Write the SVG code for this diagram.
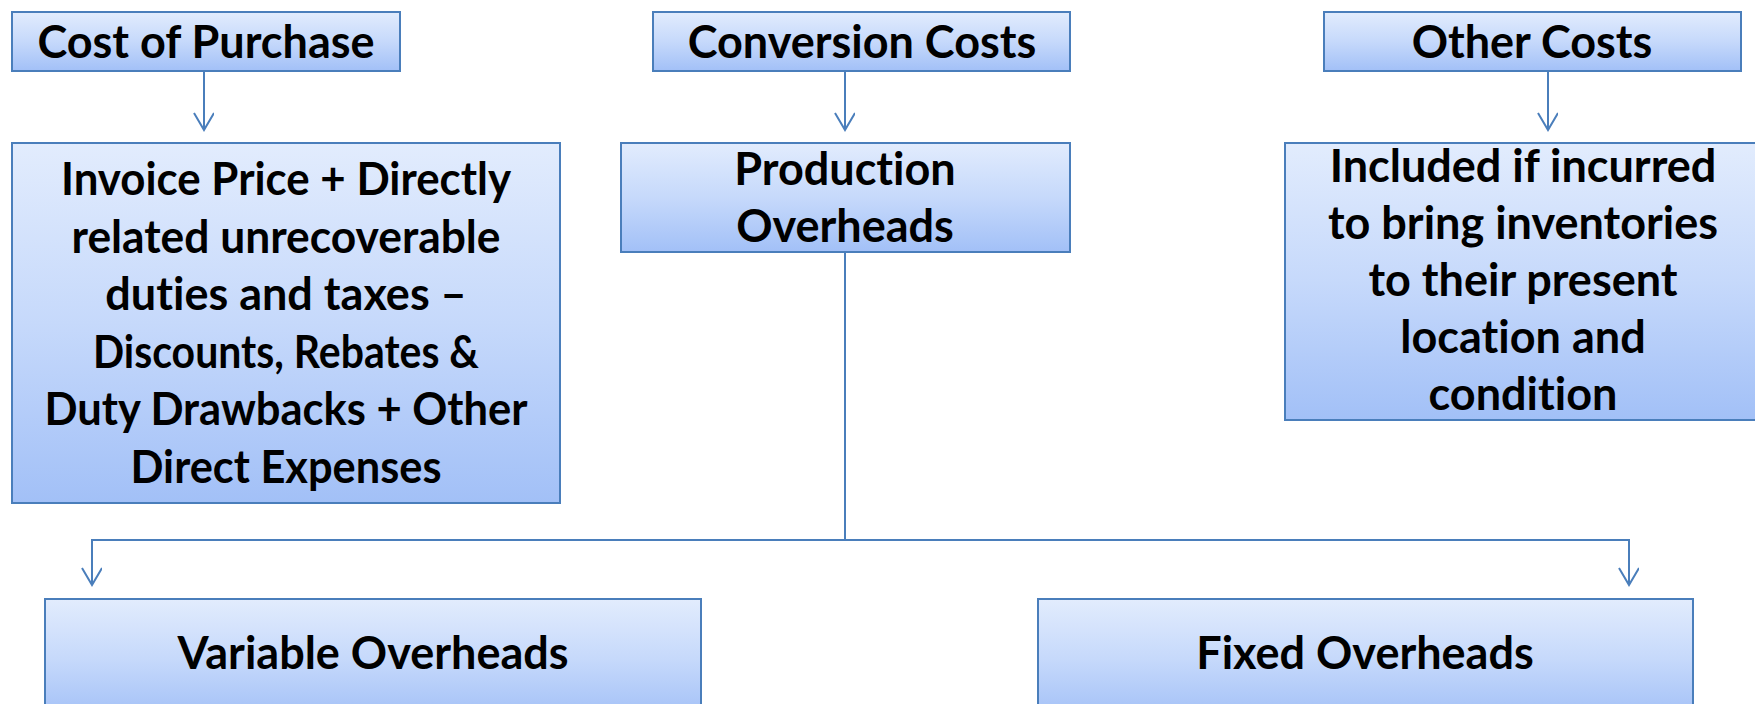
<svg xmlns="http://www.w3.org/2000/svg" width="1755" height="704" viewBox="0 0 1755 704">
  <defs>
    <linearGradient id="boxFill" x1="0" y1="0" x2="0" y2="1">
      <stop offset="0" stop-color="#e2ecfd"/>
      <stop offset="0.5" stop-color="#c6d9fb"/>
      <stop offset="1" stop-color="#a2c0f7"/>
    </linearGradient>
    <marker id="openArrow" markerWidth="24" markerHeight="24" refX="18" refY="10" orient="auto" markerUnits="userSpaceOnUse" viewBox="0 0 24 24">
      <path d="M1,0 L18,10 L1,20" fill="none" stroke="#4a7ebb" stroke-width="2"/>
    </marker>
  </defs>
  <style>
    .box { fill: url(#boxFill); stroke: #4a7ebb; stroke-width: 2; }
    .lbl { font-family: Lato, "Liberation Sans", sans-serif; font-weight: bold; font-size: 45px; fill: #000; text-anchor: middle; font-variant-ligatures: none; }
    .conn { fill: none; stroke: #4a7ebb; stroke-width: 2; }
  </style>
  <rect width="1755" height="704" fill="#ffffff"/>

  <g id="connectors">
    <line class="conn" x1="204" y1="71" x2="204" y2="130" marker-end="url(#openArrow)"/>
    <line class="conn" x1="845" y1="71" x2="845" y2="130" marker-end="url(#openArrow)"/>
    <line class="conn" x1="1548" y1="71" x2="1548" y2="130" marker-end="url(#openArrow)"/>
    <polyline class="conn" points="845,252 845,540 92,540 92,585" marker-end="url(#openArrow)"/>
    <polyline class="conn" points="845,540 1629,540 1629,585" marker-end="url(#openArrow)"/>
  </g>

  <g id="cost-of-purchase">
    <rect class="box" x="12" y="12" width="388" height="59"/>
    <text class="lbl" x="206" y="58">Cost of Purchase</text>
  </g>

  <g id="conversion-costs">
    <rect class="box" x="653" y="12" width="417" height="59"/>
    <text class="lbl" x="862" y="58">Conversion Costs</text>
  </g>

  <g id="other-costs">
    <rect class="box" x="1324" y="12" width="417" height="59"/>
    <text class="lbl" x="1532" y="58">Other Costs</text>
  </g>

  <g id="purchase-detail">
    <rect class="box" x="12" y="143" width="548" height="360"/>
    <text class="lbl" x="286" y="195" textLength="450" lengthAdjust="spacingAndGlyphs">Invoice Price + Directly</text>
    <text class="lbl" x="286" y="252.5" textLength="429" lengthAdjust="spacingAndGlyphs">related unrecoverable</text>
    <text class="lbl" x="286" y="310">duties and taxes –</text>
    <text class="lbl" x="286" y="367.5" textLength="386" lengthAdjust="spacingAndGlyphs">Discounts, Rebates &amp;</text>
    <text class="lbl" x="286" y="425" textLength="483" lengthAdjust="spacingAndGlyphs">Duty Drawbacks + Other</text>
    <text class="lbl" x="286" y="482.5" textLength="311" lengthAdjust="spacingAndGlyphs">Direct Expenses</text>
  </g>

  <g id="production-overheads">
    <rect class="box" x="621" y="143" width="449" height="109"/>
    <text class="lbl" x="845" y="185">Production</text>
    <text class="lbl" x="845" y="242">Overheads</text>
  </g>

  <g id="other-detail">
    <rect class="box" x="1285" y="143" width="474" height="277"/>
    <text class="lbl" x="1523" y="182">Included if incurred</text>
    <text class="lbl" x="1523" y="239">to bring inventories</text>
    <text class="lbl" x="1523" y="296">to their present</text>
    <text class="lbl" x="1523" y="353">location and</text>
    <text class="lbl" x="1523" y="410">condition</text>
  </g>

  <g id="variable-overheads">
    <rect class="box" x="45" y="599" width="656" height="120"/>
    <text class="lbl" x="373" y="669">Variable Overheads</text>
  </g>

  <g id="fixed-overheads">
    <rect class="box" x="1038" y="599" width="655" height="120"/>
    <text class="lbl" x="1365" y="669">Fixed Overheads</text>
  </g>
</svg>
